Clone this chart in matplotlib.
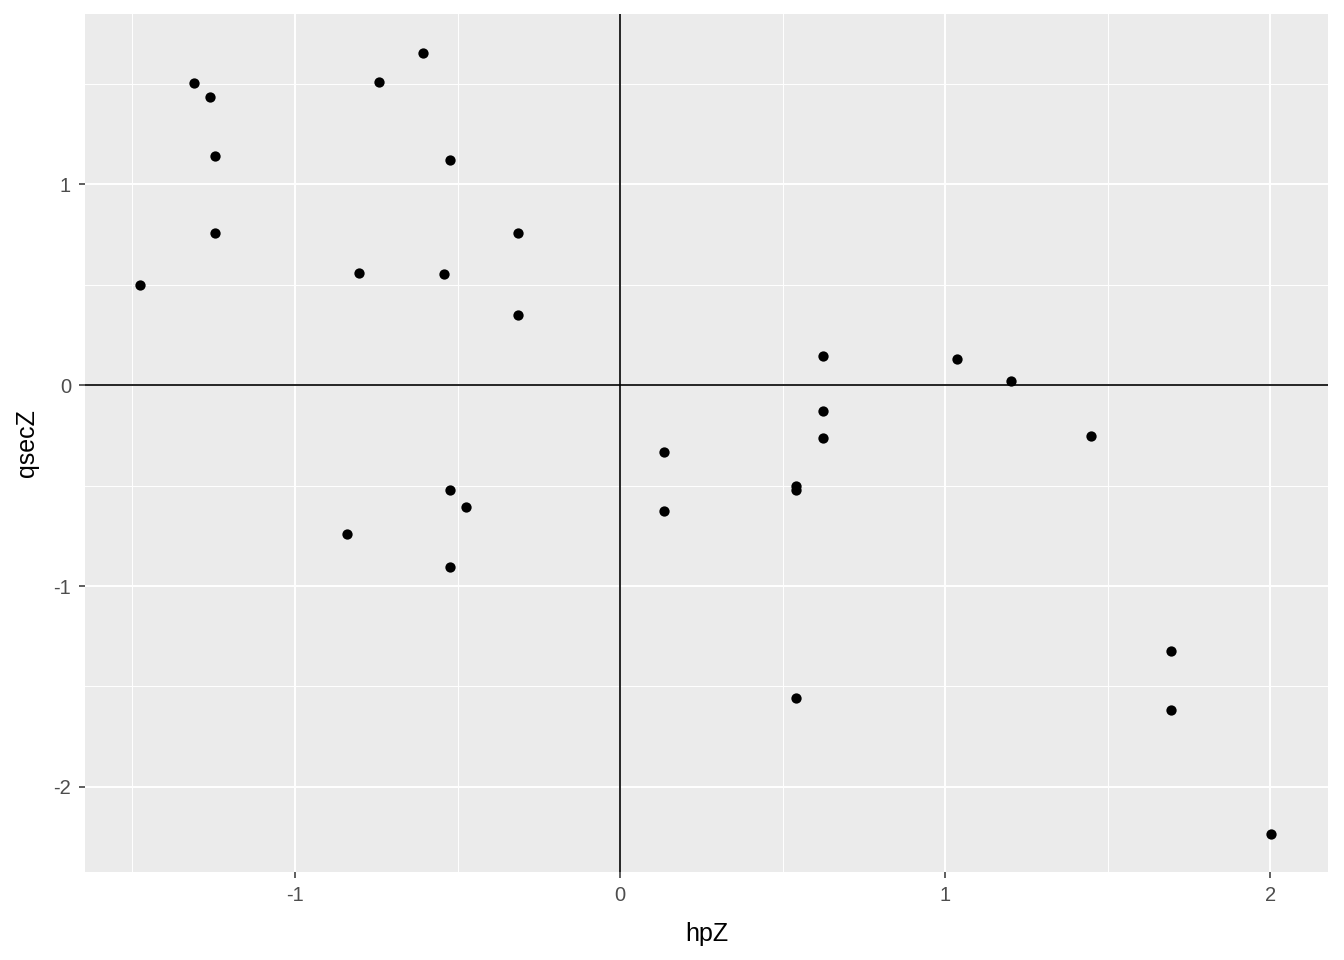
import numpy as np
import matplotlib
matplotlib.use("Agg")
import matplotlib.pyplot as plt

hpZ = [-1.477, -1.311, -1.262, -1.246, -1.246, -0.742, -0.606, -0.523, -0.803, -0.542,
       -0.314, -0.314, -0.840, -0.523, -0.474, -0.523, 0.135, 0.135, 0.542, 0.542,
       0.542, 0.625, 0.625, 0.625, 1.037, 1.203, 1.449, 1.695, 1.695, 2.003]
qsecZ = [0.498, 1.502, 1.433, 1.139, 0.756, 1.507, 1.652, 1.119, 0.557, 0.552,
         0.756, 0.348, -0.741, -0.522, -0.607, -0.905, -0.333, -0.627, -0.502, -0.522,
         -1.557, 0.144, -0.129, -0.264, 0.129, 0.020, -0.254, -1.323, -1.617, -2.234]

xticks = [-1, 0, 1, 2]
yticks = [-2, -1, 0, 1]

plt.rcParams['font.family'] = ['Arial', 'Liberation Sans', 'DejaVu Sans']
plt.rcParams['axes.unicode_minus'] = False

fig = plt.figure(figsize=(13.44, 9.6), dpi=100)
ax = fig.add_axes([85 / 1344, 1 - 872 / 960, (1328 - 85) / 1344, (872 - 14) / 960])
ax.set_facecolor('#EBEBEB')
ax.set_xlim(-1.646, 2.178)
ax.set_ylim(-2.423, 1.846)

ax.set_xticks(xticks)
ax.set_yticks(yticks)
ax.set_xticks([-1.5, -0.5, 0.5, 1.5], minor=True)
ax.set_yticks([-1.5, -0.5, 0.5, 1.5], minor=True)
ax.grid(which='major', color='white', linewidth=1.4)
ax.grid(which='minor', color='white', linewidth=0.7)
ax.set_axisbelow(True)
for s in ax.spines.values():
    s.set_visible(False)
ax.tick_params(which='major', length=4, width=1.1, color='#333333',
               labelsize=14.5, labelcolor='#4D4D4D', pad=6)
ax.tick_params(which='minor', length=0)

ax.axhline(0, color='black', linewidth=1.2, zorder=2)
ax.axvline(0, color='black', linewidth=1.2, zorder=2)
ax.scatter(hpZ, qsecZ, s=55, color='black', zorder=3, linewidths=0)

ax.set_xlabel('hpZ', fontsize=18, labelpad=12)
ax.set_ylabel('qsecZ', fontsize=18, labelpad=10)

fig.savefig('out.png', dpi=100)
